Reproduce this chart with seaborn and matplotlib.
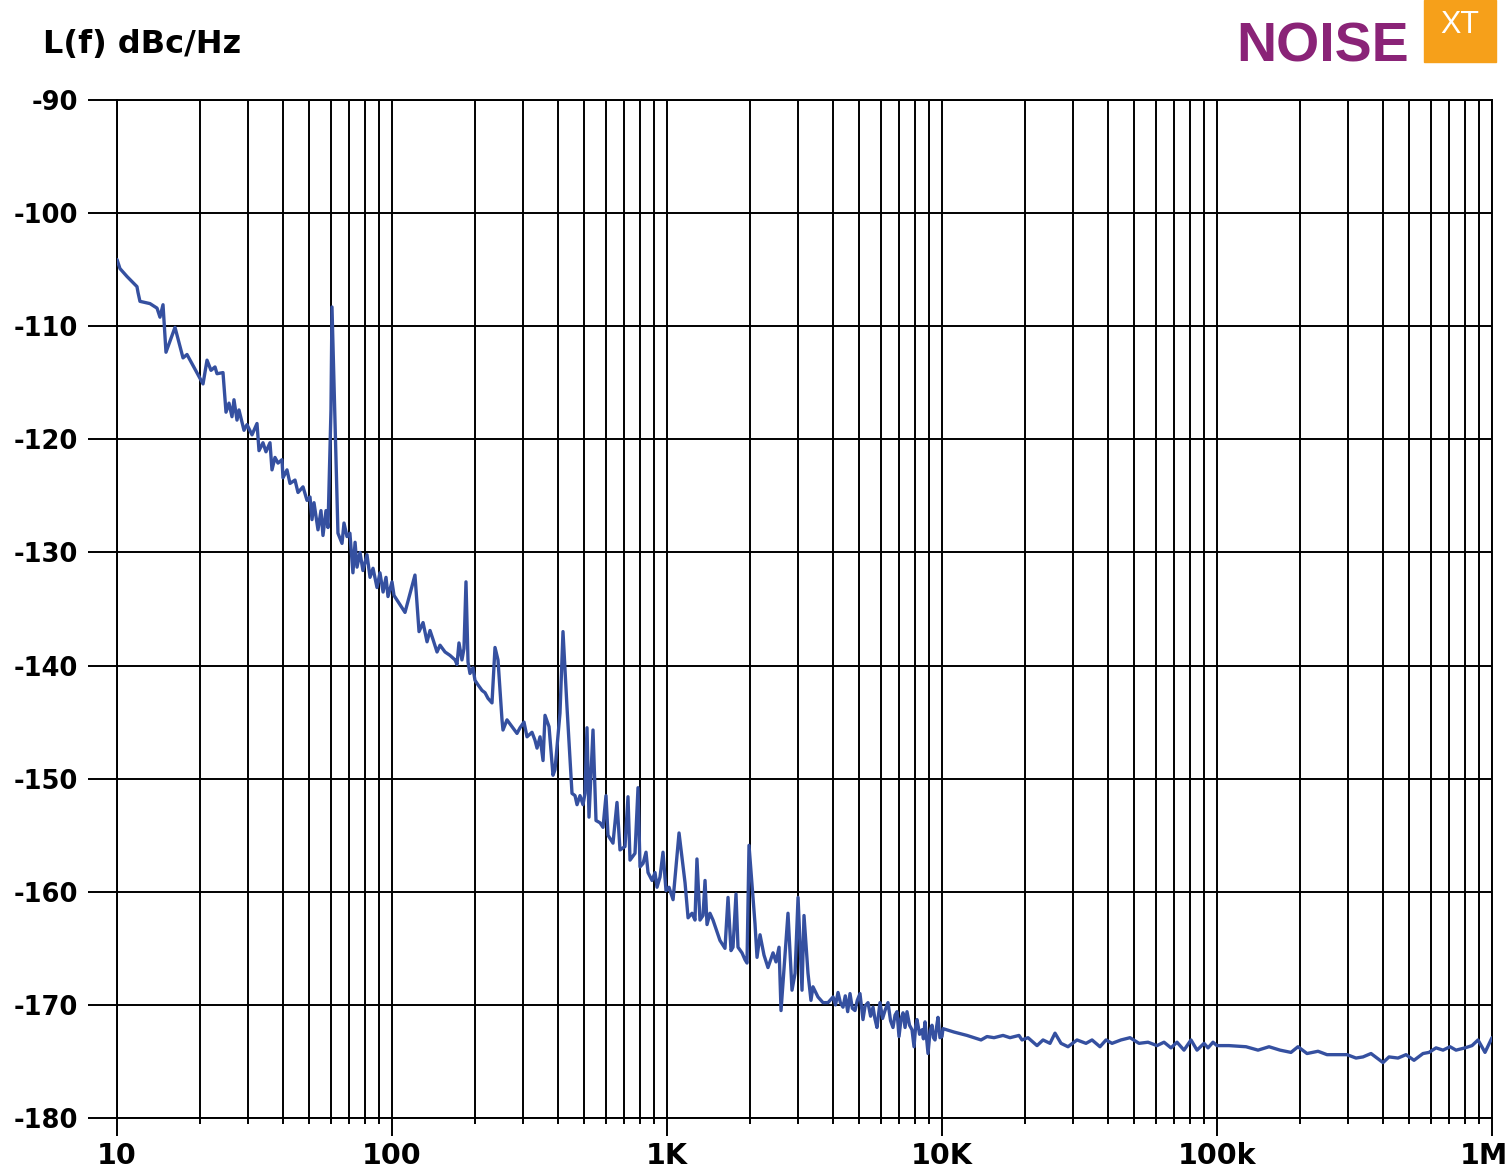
import seaborn as sns
import matplotlib.pyplot as plt
import pandas as pd
from matplotlib.patches import Rectangle
from matplotlib.ticker import NullFormatter
from matplotlib.transforms import ScaledTranslation

# Phase noise readings, 10 Hz .. 1 MHz offset (Hz, dBc/Hz)
freq_low = [10.0, 10.25, 10.87, 11.82, 11.92, 12.12, 13.18, 13.98, 14.33, 14.70,
            15.07, 16.25, 17.38, 17.97, 20.55, 21.25, 21.97, 22.72, 23.10, 24.29,
            24.91, 25.54, 26.19, 26.63, 27.31, 27.77, 28.96, 29.70, 30.97, 32.29,
            32.84, 33.95, 34.81, 36.00, 36.61, 37.54, 38.50, 39.81, 40.14, 41.51,
            42.57, 44.39, 45.52, 47.47, 49.09, 50.33, 51.18, 52.04, 53.81, 55.17,
            56.11, 57.54, 58.51, 59.99, 60.5, 63.6, 65.8, 66.9, 68.6, 70.3,
            72.1, 73.4, 74.6, 76.5, 78.4, 81.1, 83.2, 85.3, 88.2, 90.4,
            92.8, 95.1, 96.7, 100.0, 101.7, 111.5, 121.2, 125.4, 129.7, 134.1,
            137.5, 141.0, 145.8, 149.5, 155.9, 162.5, 169.5, 172.3, 175.2, 179.6,
            182.7, 185.8, 189.0, 192.1, 197.0, 200.3, 205.4, 212.5, 217.9, 223.4]
level_low = [-104.1, -104.9, -105.6, -106.5, -107.0, -107.8, -108.0, -108.4, -109.2, -108.1,
             -112.3, -110.1, -112.8, -112.5, -115.1, -113.0, -113.9, -113.6, -114.2, -114.1,
             -117.6, -116.8, -118.0, -116.5, -118.3, -117.4, -119.2, -118.7, -119.6, -118.6,
             -121.0, -120.3, -121.1, -120.3, -122.7, -121.6, -122.1, -121.8, -123.4, -122.7,
             -123.9, -123.6, -124.7, -124.2, -125.4, -125.1, -127.1, -125.6, -128.0, -126.3,
             -128.5, -126.3, -127.8, -117.4, -108.3, -128.3, -129.2, -127.4, -128.6, -128.3,
             -131.8, -129.1, -131.3, -130.0, -131.6, -130.2, -132.2, -131.4, -133.1, -131.8,
             -133.5, -132.2, -133.9, -132.6, -133.8, -135.3, -132.0, -137.0, -136.2, -137.9,
             -136.9, -137.7, -138.8, -138.2, -138.8, -139.1, -139.5, -139.9, -138.0, -139.5,
             -138.5, -132.6, -139.7, -140.7, -140.2, -141.3, -141.7, -142.2, -142.4, -142.9]

freq_mid = [231.0, 236.9, 242.9, 251.2, 253.3, 261.9, 273.1, 284.8, 292.1, 302.0,
            309.7, 322.9, 331.1, 336.8, 345.4, 354.2, 360.1, 372.4, 385.0, 391.5,
            408.2, 418.6, 432.9, 451.4, 463.0, 470.8, 482.7, 494.9, 503.2, 511.8,
            520.4, 538.2, 551.9, 570.7, 585.2, 600.0, 610.2, 636.2, 657.9, 674.6,
            703.5, 721.4, 733.7, 765.0, 784.5, 797.8, 818.1, 838.9, 853.1, 882.2,
            904.6, 919.8, 943.1, 967.1, 991.7, 1017, 1052, 1106, 1163, 1193,
            1233, 1264, 1285, 1318, 1352, 1375, 1398, 1433, 1470, 1558,
            1625, 1667, 1709, 1738, 1782, 1812, 1874, 1921, 1954, 1987,
            2089, 2125, 2179, 2253, 2329, 2430, 2491, 2555, 2598, 2754,
            2848, 2922, 2996, 3097, 3149, 3256, 3338, 3395, 3540, 3693,
            3850]
level_mid = [-143.3, -138.4, -139.5, -144.8, -145.7, -144.8, -145.4, -146.0, -145.5, -145.0,
             -146.3, -145.9, -146.6, -147.3, -146.3, -148.4, -144.4, -145.4, -149.7, -149.2,
             -144.2, -137.0, -143.7, -151.3, -151.5, -152.3, -151.5, -152.3, -151.3, -145.5,
             -153.4, -145.7, -153.7, -153.9, -154.3, -151.5, -155.0, -155.7, -152.1, -156.3,
             -156.0, -151.6, -157.2, -156.6, -150.8, -157.8, -157.5, -156.5, -158.3, -159.0,
             -158.3, -159.6, -158.7, -156.5, -159.9, -159.6, -160.7, -154.8, -159.2, -162.3,
             -161.9, -162.5, -157.1, -162.5, -162.1, -159.0, -162.9, -161.9, -162.5, -164.3,
             -165.0, -160.5, -165.2, -164.9, -160.2, -164.9, -165.4, -166.0, -166.3, -155.9,
             -162.8, -165.8, -163.8, -165.6, -166.7, -165.4, -166.2, -164.9, -170.5, -161.9,
             -168.7, -167.2, -160.5, -168.7, -162.1, -167.2, -169.6, -168.4, -169.3, -169.8,
             -169.8]

# the noisy 4k..10k stretch
freq_band = [4017, 4100, 4187, 4270, 4365, 4450, 4540, 4629, 4720, 4826,
             4920, 5032, 5160, 5250, 5382, 5500, 5613, 5700, 5802, 5950,
             6080, 6204, 6362, 6500, 6634, 6750, 6861, 6977, 7100, 7215,
             7340, 7460, 7620, 7780, 7912, 8020, 8113, 8290, 8460, 8560,
             8675, 8896, 9050, 9197, 9310, 9430, 9550, 9670, 9830, 10000,
             10085]
level_band = [-169.3, -170.0, -168.9, -169.8, -170.2, -169.2, -170.6, -169.0, -170.3, -170.5,
              -169.6, -169.0, -171.3, -170.1, -169.8, -171.0, -170.2, -171.2, -172.0, -169.8,
              -171.2, -170.5, -169.8, -171.4, -172.0, -170.9, -170.6, -172.8, -171.2, -170.7,
              -172.0, -170.6, -171.8, -172.2, -173.7, -171.9, -171.3, -172.6, -172.2, -173.0,
              -171.5, -174.3, -172.3, -171.8, -172.9, -173.1, -172.0, -171.1, -172.9, -172.8,
              -172.1]

freq_high = [11055, 12330, 13866, 14574, 15457, 16670, 17675, 19055, 19540, 20546,
             22160, 23300, 24700, 25760, 27090, 28720, 30970, 33390, 35120, 37540,
             39480, 41520, 44760, 48270, 52040, 56120, 60510, 64170, 68030, 71540,
             75860, 80440, 84590, 89700, 92750, 96710, 100000, 110560, 127500, 141000,
             154600, 169500, 185800, 197000, 212500, 233000, 251200, 270900, 297000, 320200,
             339500, 363100, 401500, 422200, 455200, 486800, 520400, 561200, 590200, 625900,
             663600, 703800, 739900, 797900, 846000, 889500, 943100, 1000000]
level_high = [-172.4, -172.7, -173.1, -172.8, -172.9, -172.7, -172.9, -172.7, -173.1, -172.9,
              -173.6, -173.1, -173.4, -172.5, -173.4, -173.7, -173.1, -173.4, -173.1, -173.7,
              -173.1, -173.4, -173.1, -172.9, -173.4, -173.3, -173.6, -173.3, -173.8, -173.3,
              -174.0, -173.1, -174.0, -173.4, -173.8, -173.3, -173.6, -173.6, -173.7, -174.0,
              -173.7, -174.0, -174.2, -173.7, -174.3, -174.1, -174.4, -174.4, -174.4, -174.7,
              -174.6, -174.3, -175.1, -174.6, -174.7, -174.4, -174.9, -174.3, -174.2, -173.8,
              -174.0, -173.7, -174.0, -173.8, -173.6, -173.1, -174.2, -172.9]

x_ticks = [10, 100, 1000, 10000, 100000, 1000000]
x_labels = ['10', '100', '1K', '10K', '100k', '1M']
y_ticks = [-180, -170, -160, -150, -140, -130, -120, -110, -100, -90]

df = pd.DataFrame({'freq': freq_low + freq_mid + freq_band + freq_high,
                   'level': level_low + level_mid + level_band + level_high})

sns.set_style('ticks')
plt.rcParams['font.family'] = ['DejaVu Sans']
plt.rcParams['text.color'] = 'black'
plt.rcParams['xtick.color'] = 'black'
plt.rcParams['ytick.color'] = 'black'

fig = plt.figure(figsize=(15.1, 11.69), dpi=100)
W, H = 1510, 1169
ax = fig.add_axes([117 / W, 1 - 1118 / H, (1492 - 117) / W, (1118 - 100) / H])

sns.lineplot(data=df, x='freq', y='level', ax=ax, color='#3550a0', lw=2.4,
             estimator=None, sort=False, zorder=3)

ax.set_xscale('log')
ax.set_xlim(10, 1e6)
ax.set_ylim(-180, -90)
ax.set_xticks(x_ticks, x_labels)
minor = [m * 10 ** e for e in range(1, 6) for m in range(2, 10)]
ax.set_xticks(minor, minor=True)
ax.xaxis.set_minor_formatter(NullFormatter())
ax.set_yticks(y_ticks, [str(v) for v in y_ticks])
ax.set_xlabel('')
ax.set_ylabel('')

ax.grid(which='both', axis='x', color='black', lw=1.4)
ax.grid(which='major', axis='y', color='black', lw=1.4)
ax.set_axisbelow(True)
for s in ax.spines.values():
    s.set_visible(True)
    s.set_color('black')
    s.set_linewidth(1.4)

ax.tick_params(axis='x', which='major', length=13, width=1.4, pad=4,
               labelsize=20.5, color='black', labelcolor='black')
ax.tick_params(axis='x', which='minor', length=4.3, width=1.4, color='black')
ax.tick_params(axis='y', which='major', length=21, width=1.4, pad=7,
               labelsize=18.5, color='black', labelcolor='black')
for lab in ax.get_xticklabels() + ax.get_yticklabels():
    lab.set_fontweight('bold')
# keep the 1M label inside the canvas, as in the original
last = ax.get_xticklabels()[-1]
last.set_transform(last.get_transform() + ScaledTranslation(-8 / 100, 0, fig.dpi_scale_trans))

fig.text(43 / W, 1 - 53 / H, 'L(f) dBc/Hz', fontsize=23, fontweight='bold',
         va='baseline', ha='left', color='black')

# logo
fig.text(1236 / W, 1 - 62 / H, 'NOISE', fontsize=40, fontweight='bold',
         family=['Liberation Sans', 'DejaVu Sans'], color='#8a2377',
         va='baseline', ha='left')
fig.patches.append(Rectangle((1424 / W, 1 - 62 / H), 72 / W, 62 / H,
                             transform=fig.transFigure, color='#f6a01a', zorder=5))
fig.text(1460 / W, 1 - 25 / H, 'XT', fontsize=22, color='white',
         family=['Liberation Sans', 'DejaVu Sans'], va='center', ha='center', zorder=6)

fig.savefig('out.png', dpi=100)
